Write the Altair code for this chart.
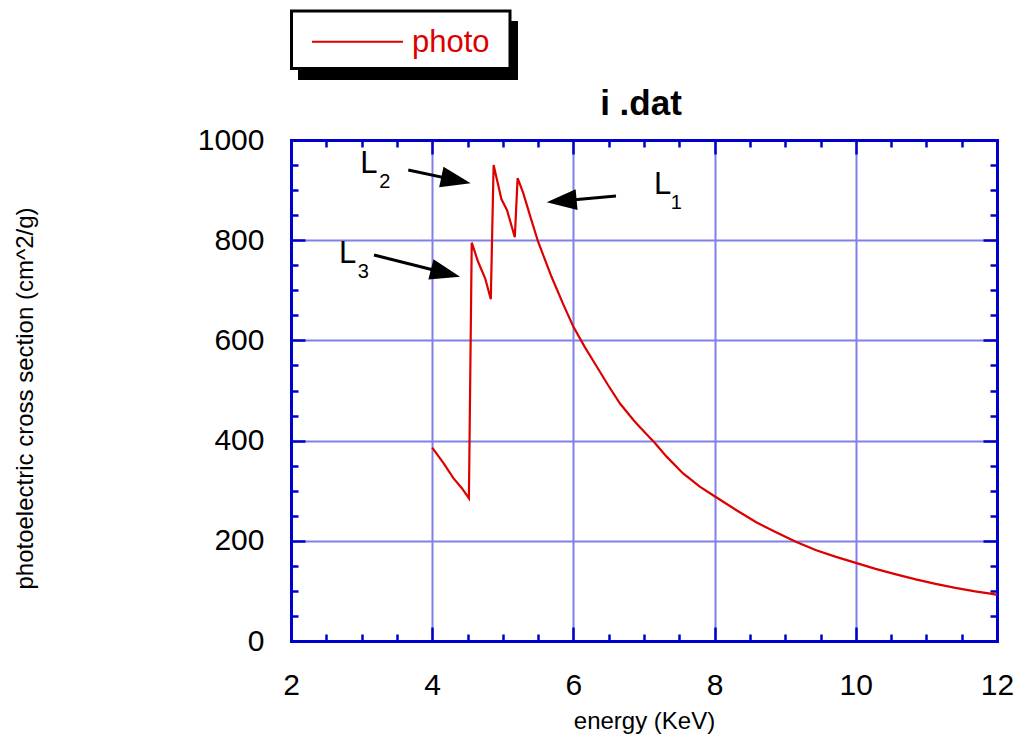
import math
import altair as alt
import pandas as pd

# ---------------- text ----------------
TITLE = "i .dat"
SERIES_NAME = "photo"
X_TITLE = "energy (KeV)"
Y_TITLE = "photoelectric cross section (cm^2/g)"

# ---------------- data ----------------
energy = [4.00, 4.16, 4.30, 4.42, 4.52,
          4.56, 4.65, 4.75, 4.83,
          4.87, 4.98, 5.06, 5.17,
          5.21, 5.29, 5.39, 5.50, 5.69, 5.86, 6.00,
          6.16, 6.33, 6.49, 6.66, 6.85, 6.94, 7.08,
          7.13, 7.32, 7.55, 7.79, 8.00,
          8.31, 8.59, 8.87, 9.15, 9.44, 9.72, 10.00,
          10.28, 10.57, 10.85, 11.13, 11.41, 11.69, 11.93, 12.00]
cross = [386, 355, 325, 305, 285,
         795, 757, 724, 682,
         950, 882, 860, 806,
         924, 894, 847, 797, 727, 671, 627,
         587, 548, 511, 474, 441, 427, 406,
         399, 368, 335, 308, 289,
         261, 237, 217, 198, 181, 168, 156,
         144, 133, 123, 114, 106, 99, 94, 92]
assert len(energy) == len(cross)

x_major = [2, 4, 6, 8, 10, 12]
x_ticks = [2 + 0.5 * i for i in range(21)]
y_major = [0, 200, 400, 600, 800, 1000]
y_ticks = [50 * i for i in range(21)]

# edge labels (L with subscript), in data units
lab_text = ["L", "2", "L", "3", "L", "1"]
lab_kind = ["main", "sub", "main", "sub", "main", "sub"]
lab_x = [2.98, 3.25, 2.68, 2.945, 7.14, 7.38]
lab_y = [935, 905, 754, 724, 892, 862]

# arrows: tail -> tip, in data units
arr_x0 = [3.661, 3.176, 6.603]
arr_y0 = [940.1, 770.5, 888.2]
arr_x1 = [4.545, 4.394, 5.622]
arr_y1 = [913.6, 727.1, 875.6]

# ---------------- style ----------------
W, H = 706, 501
X_MIN, X_MAX, Y_MIN, Y_MAX = 2, 12, 0, 1000
BLUE = "#0000CC"
GRID = "#8080E6"
RED = "#DD0000"
FONT = "Liberation Sans"

df = pd.DataFrame({"energy": energy, "cross": cross})

# arrow geometry (angles and shaft ends from the scales' pixel sizes)
pxE = W / (X_MAX - X_MIN)
pxV = H / (Y_MAX - Y_MIN)
rows = []
for x0, y0, x1, y1 in zip(arr_x0, arr_y0, arr_x1, arr_y1):
    dx = (x1 - x0) * pxE
    dy = -(y1 - y0) * pxV
    L = math.hypot(dx, dy)
    ux, uy = dx / L, dy / L
    ang = math.degrees(math.atan2(dy, dx)) % 360
    back = 14
    rows.append({"x0": x0, "y0": y0, "x1": x1, "y1": y1,
                 "xs": x1 - back * ux / pxE, "ys": y1 + back * uy / pxV,
                 "ang": ang})
arr_df = pd.DataFrame(rows)
lab_df = pd.DataFrame({"t": lab_text, "k": lab_kind, "x": lab_x, "y": lab_y})
lab_df["fs"] = lab_df["k"].map({"main": 31, "sub": 20})

xs = alt.Scale(domain=[X_MIN, X_MAX], nice=False, zero=False)
ys = alt.Scale(domain=[Y_MIN, Y_MAX], nice=False, zero=False)


def tick_axis(orient, offset, values, test, domain):
    return alt.Axis(orient=orient, offset=offset, values=values, labels=False,
                    grid=False, domain=domain, domainColor=BLUE, domainWidth=3,
                    domainCap="square", ticks=True, tickColor=BLUE, tickWidth=2.5,
                    tickSize={"condition": {"test": test, "value": 14}, "value": 7},
                    title=None)


ax_x_main = alt.Axis(orient="bottom", values=x_major, format="d", labelFontSize=30,
                     labelColor="black", labelPadding=29, labelFlush=False,
                     labelOverlap=False, ticks=False, domain=False, grid=True,
                     gridColor=GRID, gridWidth=2, gridOpacity=1, title=X_TITLE,
                     titleFontSize=24, titleFontWeight="normal", titleColor="black",
                     titleBaseline="alphabetic", titleY=87)
ax_y_main = alt.Axis(orient="left", values=y_major, format="d", labelFontSize=30,
                     labelColor="black", labelPadding=27, labelOverlap=False,
                     ticks=False, domain=False, grid=True, gridColor=GRID,
                     gridWidth=2, gridOpacity=1, title=Y_TITLE, titleFontSize=24,
                     titleFontWeight="normal", titleColor="black",
                     titleBaseline="alphabetic", titleAlign="center",
                     titleX=-259, titleY=258)

xtest = "datum.value % 2 === 0"
ytest = "datum.value % 200 === 0"

line = alt.Chart(df).mark_line(color=RED, strokeWidth=2.2).encode(
    x=alt.X("energy:Q", scale=xs, axis=ax_x_main),
    y=alt.Y("cross:Q", scale=ys, axis=ax_y_main),
)
ticks_a = alt.Chart(df).mark_line(opacity=0).encode(
    x=alt.X("energy:Q", scale=xs, axis=tick_axis("top", -H, x_ticks, xtest, True)),
    y=alt.Y("cross:Q", scale=ys, axis=tick_axis("right", -W, y_ticks, ytest, True)),
)
ticks_b = alt.Chart(df).mark_line(opacity=0).encode(
    x=alt.X("energy:Q", scale=xs, axis=tick_axis("bottom", -H, x_ticks, xtest, True)),
    y=alt.Y("cross:Q", scale=ys, axis=tick_axis("left", -W, y_ticks, ytest, True)),
)

shafts = alt.Chart(arr_df).mark_rule(color="black", strokeWidth=3).encode(
    x=alt.X("x0:Q", scale=xs, axis=None), y=alt.Y("y0:Q", scale=ys, axis=None),
    x2="xs:Q", y2="ys:Q",
)
heads = alt.Chart(arr_df).mark_point(
    shape="M0,0L-2,-0.7L-2,0.7Z", filled=True, size=900, color="black",
    opacity=1, strokeWidth=0,
).encode(
    x=alt.X("x1:Q", scale=xs, axis=None), y=alt.Y("y1:Q", scale=ys, axis=None),
    angle=alt.Angle("ang:Q", scale=None),
)
labels = alt.Chart(lab_df).mark_text(align="left", baseline="alphabetic",
                                     color="black", font=FONT).encode(
    x=alt.X("x:Q", scale=xs, axis=None), y=alt.Y("y:Q", scale=ys, axis=None),
    text="t:N", size=alt.Size("fs:Q", scale=None),
)

one = pd.DataFrame({"k": [0]})
leg_shadow = alt.Chart(one).mark_rect(color="black").encode(
    x=alt.value(7), x2=alt.value(227), y=alt.value(-119), y2=alt.value(-60))
leg_box = alt.Chart(one).mark_rect(fill="white", stroke="black", strokeWidth=3).encode(
    x=alt.value(0.5), x2=alt.value(219), y=alt.value(-129), y2=alt.value(-71.5))
leg_line = alt.Chart(one).mark_rule(color=RED, strokeWidth=2).encode(
    x=alt.value(21), x2=alt.value(112), y=alt.value(-98.3))
leg_text = alt.Chart(one).mark_text(align="left", baseline="alphabetic", color=RED,
                                    fontSize=31, font=FONT).encode(
    x=alt.value(121), y=alt.value(-88), text=alt.value(SERIES_NAME))
title = alt.Chart(one).mark_text(align="center", baseline="alphabetic", color="black",
                                 fontSize=35, fontWeight="bold", font=FONT).encode(
    x=alt.value(350), y=alt.value(-25), text=alt.value(TITLE))

chart = alt.layer(
    line, ticks_a, ticks_b, shafts, heads, labels,
    leg_shadow, leg_box, leg_line, leg_text, title,
).resolve_axis(x="independent", y="independent").properties(
    width=W, height=H,
    padding={"left": 291, "top": 140, "right": 24, "bottom": 94},
    autosize=alt.AutoSizeParams(type="none"),
    background="white",
).configure(font=FONT).configure_view(stroke="transparent")

chart.save("out.html", embed_options={"renderer": "svg", "actions": False})
